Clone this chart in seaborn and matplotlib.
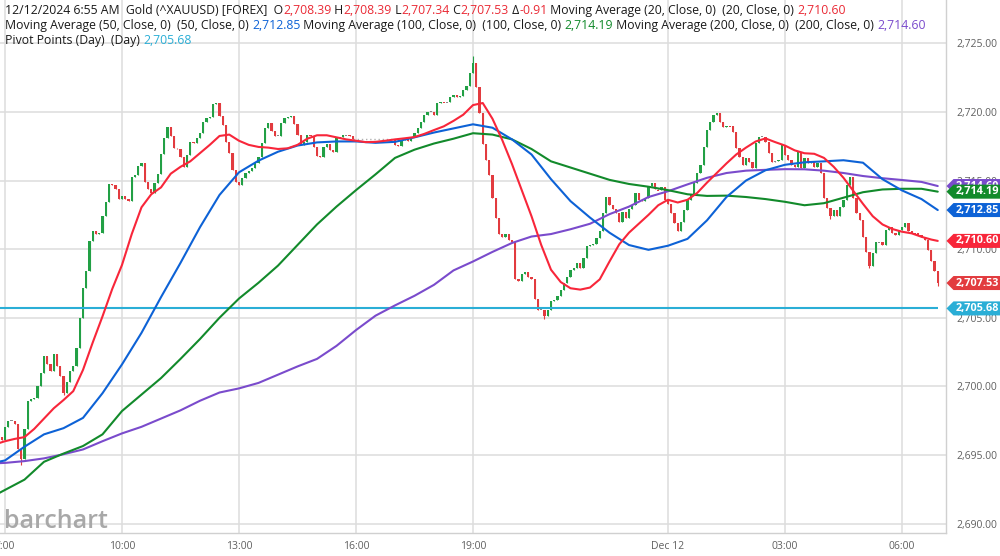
import numpy as np
import pandas as pd
import matplotlib
matplotlib.use("Agg")
import matplotlib.pyplot as plt
import seaborn as sns
from matplotlib.path import Path

W, H = 1000, 556

# ---------------- data ----------------
bar_times = pd.date_range("2024-12-11 06:55", "2024-12-12 06:55", freq="5min")
first_open = 2696.30
closes = [
    2696.10,
    # 07:00
    2697.00, 2697.48, 2697.50, 2697.24, 2695.41, 2694.68, 2696.87, 2698.94, 2699.11, 2699.18, 2700.03, 2700.95,
    # 08:00
    2702.22, 2701.61, 2701.12, 2702.34, 2701.49, 2700.76, 2699.54, 2700.32, 2701.12, 2701.49, 2702.82, 2705.01,
    # 09:00
    2707.20, 2708.41, 2710.60, 2711.33, 2711.08, 2711.20, 2712.42, 2713.44, 2714.78, 2714.70, 2714.36, 2713.65,
    # 10:00
    2713.88, 2713.63, 2713.50, 2715.29, 2715.38, 2716.06, 2716.30, 2714.90, 2714.36, 2714.12, 2714.85, 2715.46,
    # 11:00
    2716.91, 2718.08, 2718.93, 2718.25, 2717.35, 2717.30, 2716.70, 2715.97, 2716.87, 2717.84, 2717.72, 2718.08,
    # 12:00
    2718.45, 2719.30, 2719.59, 2719.66, 2720.58, 2720.68, 2719.71, 2719.05, 2717.84, 2716.99, 2715.77, 2714.92,
    # 13:00
    2714.70, 2715.17, 2715.53, 2715.72, 2715.89, 2716.26, 2716.74, 2717.72, 2718.81, 2719.17, 2718.64, 2718.25,
    # 14:00
    2718.27, 2719.17, 2719.54, 2719.66, 2719.70, 2719.13, 2718.32, 2717.59, 2717.84, 2718.32, 2718.25, 2717.47,
    # 15:00
    2716.79, 2716.74, 2717.47, 2717.67, 2717.20, 2717.10, 2718.08, 2718.15, 2718.32, 2718.30, 2718.25, 2718.05,
    # 16:00 (session break)
    None, None, None, None, None, None, None, None, None, None, None, None,
    # 17:00
    2717.59, 2717.52, 2717.96, 2718.00, 2717.90, 2718.15, 2718.50, 2718.81, 2719.30, 2719.78, 2720.00, 2720.02,
    # 18:00
    2719.78, 2720.63, 2720.75, 2720.70, 2720.72, 2721.12, 2721.20, 2721.12, 2721.15, 2721.60, 2721.90, 2722.87,
    # 19:00
    2723.55, 2721.80, 2719.90, 2717.70, 2716.50, 2715.40, 2713.70, 2712.30, 2711.10, 2710.90, 2711.10, 2710.70,
    # 20:00
    2710.50, 2707.80, 2707.70, 2708.20, 2708.35, 2708.00, 2707.80, 2706.40, 2705.60, 2705.60, 2705.10, 2705.60,
    # 21:00
    2706.20, 2706.30, 2706.60, 2707.00, 2707.50, 2708.00, 2708.50, 2708.60, 2709.00, 2708.60, 2709.35, 2710.20,
    # 22:00
    2710.30, 2710.40, 2710.80, 2711.30, 2712.60, 2713.80, 2713.20, 2712.90, 2712.60, 2712.00, 2712.70, 2712.30,
    # 23:00
    2712.90, 2713.20, 2714.10, 2713.60, 2713.50, 2713.70, 2714.60, 2714.80, 2714.35, 2714.30, 2714.50, 2713.60,
    # 00:00
    2713.30, 2712.60, 2711.90, 2711.30, 2712.00, 2712.86, 2713.59, 2713.96, 2714.80, 2715.53, 2716.14, 2717.48,
    # 01:00
    2718.69, 2719.30, 2719.78, 2719.90, 2719.30, 2718.93, 2719.00, 2718.95, 2718.57, 2717.35, 2716.75, 2716.14,
    # 02:00
    2716.63, 2716.38, 2715.90, 2717.72, 2718.20, 2718.20, 2717.84, 2716.99, 2716.38, 2716.40, 2716.50, 2717.60,
    # 03:00
    2716.87, 2716.50, 2716.14, 2716.00, 2717.10, 2715.90, 2716.63, 2716.26, 2716.38, 2716.00, 2716.26, 2715.53,
    # 04:00
    2713.71, 2712.99, 2712.40, 2712.86, 2712.38, 2713.10, 2713.59, 2714.68, 2715.29, 2713.71, 2712.62, 2712.14,
    # 05:00
    2710.90, 2709.80, 2708.75, 2709.70, 2710.50, 2710.50, 2710.30, 2711.40, 2711.65, 2711.20, 2711.05, 2711.40,
    # 06:00
    2711.65, 2711.90, 2711.30, 2711.20, 2711.15, 2711.05, 2710.90, 2710.70, 2709.95, 2709.10, 2708.39, 2707.53,
]
extra_high = {"2024-12-11 19:00": 2724.05}
extra_low = {"2024-12-11 07:25": 2694.25, "2024-12-11 08:30": 2699.35,
             "2024-12-11 20:50": 2704.90, "2024-12-12 04:10": 2712.20,
             "2024-12-12 05:10": 2708.60, "2024-12-12 06:55": 2707.34}

ma20_times = (["2024-12-11 06:50"]
              + pd.date_range("2024-12-11 07:00", "2024-12-12 06:45", freq="15min").strftime("%Y-%m-%d %H:%M").tolist()
              + ["2024-12-12 06:55"])
ma20 = [2695.85,
        2696.00, 2696.17, 2696.30, 2696.90, 2697.65, 2698.40, 2699.00, 2699.65, 2701.20, 2703.20,
        2705.10, 2707.10, 2708.85, 2711.10, 2713.05, 2714.00, 2714.50, 2715.50, 2716.00, 2716.40,
        2717.00, 2717.60, 2718.25, 2718.35, 2717.90, 2717.60, 2717.45, 2717.40, 2717.30, 2717.35,
        2717.60, 2718.05, 2718.30, 2718.30, 2718.15, 2718.00, 2717.90, 2717.80, 2717.82, 2717.90,
        2718.00, 2718.08, 2718.17, 2718.40, 2718.68, 2718.95, 2719.35, 2719.80, 2720.50, 2720.65,
        2719.50, 2717.95, 2716.20, 2714.30, 2712.40, 2710.30, 2708.50, 2707.60, 2707.15, 2707.05,
        2707.20, 2707.80, 2709.10, 2710.35, 2711.20, 2711.85, 2712.50, 2713.20, 2713.60, 2713.40,
        2713.60, 2714.10, 2714.85, 2715.55, 2716.25, 2716.90, 2717.40, 2717.85, 2718.07, 2717.80,
        2717.55, 2717.20, 2716.99, 2716.95, 2716.65, 2716.00, 2715.20, 2714.25, 2713.30, 2712.40,
        2711.80, 2711.47, 2711.27, 2711.15, 2710.90, 2710.70,
        2710.60]

ma_long_times = (["2024-12-11 06:50"]
                 + pd.date_range("2024-12-11 07:00", "2024-12-12 06:30", freq="30min").strftime("%Y-%m-%d %H:%M").tolist()
                 + ["2024-12-12 06:55"])
ma50 = [2694.50,
        2694.60, 2695.60, 2696.50, 2696.95, 2697.70, 2699.50, 2701.60, 2703.90, 2706.50, 2709.00,
        2711.60, 2713.95, 2715.60, 2716.45, 2717.10, 2717.55, 2717.78, 2717.85, 2717.85, 2717.75,
        2717.82, 2718.15, 2718.50, 2718.80, 2719.10, 2718.85, 2718.00, 2716.90, 2715.10, 2713.50,
        2712.30, 2711.20, 2710.30, 2709.95, 2710.25, 2710.75, 2712.10, 2713.80, 2715.00, 2715.75,
        2716.15, 2716.33, 2716.40, 2716.48, 2716.30, 2715.10, 2714.28, 2713.65,
        2712.85]
ma100 = [2692.20,
         2692.45, 2693.20, 2694.50, 2695.10, 2695.65, 2696.50, 2698.20, 2699.40, 2700.60, 2702.00,
         2703.45, 2705.00, 2706.40, 2707.55, 2708.80, 2710.30, 2711.80, 2713.10, 2714.30, 2715.45,
         2716.65, 2717.25, 2717.70, 2718.05, 2718.45, 2718.35, 2718.00, 2717.30, 2716.40, 2715.95,
         2715.50, 2715.05, 2714.75, 2714.55, 2714.30, 2714.00, 2713.88, 2713.90, 2713.80, 2713.65,
         2713.45, 2713.20, 2713.35, 2713.75, 2714.15, 2714.35, 2714.40, 2714.40,
         2714.19]
ma200 = [2694.40,
         2694.42, 2694.55, 2694.75, 2695.05, 2695.40, 2696.00, 2696.57, 2697.05, 2697.65, 2698.25,
         2698.95, 2699.55, 2699.85, 2700.25, 2700.85, 2701.45, 2702.00, 2702.95, 2704.10, 2705.15,
         2705.90, 2706.60, 2707.40, 2708.45, 2709.10, 2709.80, 2710.45, 2710.92, 2711.10, 2711.45,
         2711.85, 2712.55, 2713.10, 2713.80, 2714.22, 2714.72, 2715.20, 2715.55, 2715.72, 2715.78,
         2715.83, 2715.82, 2715.72, 2715.55, 2715.33, 2715.17, 2715.04, 2714.90,
         2714.60]
pivot = 2705.68

tick_times = ["2024-12-11 07:00", "2024-12-11 10:00", "2024-12-11 13:00", "2024-12-11 16:00",
              "2024-12-11 19:00", "2024-12-12 00:00", "2024-12-12 03:00", "2024-12-12 06:00"]
tick_labels = ["7:00", "10:00", "13:00", "16:00", "19:00", "Dec 12", "03:00", "06:00"]
y_ticks = [2690, 2695, 2700, 2705, 2710, 2715, 2720, 2725]

# ---------------- style ----------------
sns.set_theme(style="white")
plt.rcParams["font.family"] = ["Open Sans", "DejaVu Sans"]

C_UP = "#22a045"
C_DN = "#e23b3f"
C_MA20 = "#f8263a"
C_MA50 = "#0d62d6"
C_MA100 = "#128a2b"
C_MA200 = "#7a4bcc"
C_PIV = "#2aaed6"
C_PRICE = "#e23b3f"
GRID = "#dddddd"
TXT = "#606060"

t0 = pd.Timestamp("2024-12-11 07:00")
def pos(ts):
    ts = pd.to_datetime(pd.Series(list(ts)), format="mixed")
    return ((ts - t0) / pd.Timedelta("5min")).to_numpy(dtype=float)

fig = plt.figure(figsize=(W / 100, H / 100), dpi=100)
ax = fig.add_axes([0, 23 / H, 946 / W, 533 / H])
ax.set_facecolor("white")

# candles
df = pd.DataFrame({"time": bar_times,
                   "close": np.array([np.nan if v is None else v for v in closes], dtype=float)})
df["open"] = df["close"].ffill().shift(1)
df.loc[0, "open"] = first_open
df["x"] = pos(df["time"])
df["high"] = df[["open", "close"]].max(axis=1)
df["low"] = df[["open", "close"]].min(axis=1)
for t, v in extra_high.items():
    df.loc[df["time"] == pd.Timestamp(t), "high"] = v
for t, v in extra_low.items():
    df.loc[df["time"] == pd.Timestamp(t), "low"] = v
d = df.dropna(subset=["close"]).copy()
diff = (d["close"] - d["open"]).to_numpy()
cols = np.where(diff > 0.02, C_UP, np.where(diff < -0.02, C_DN, "#8a8a8a"))
body_h = np.maximum(np.abs(diff), 0.07)
body_b = np.minimum(d["open"], d["close"]).to_numpy() - np.where(np.abs(diff) < 0.07, 0.035, 0)
ax.vlines(d["x"], d["low"], d["high"], colors=cols, linewidth=0.8, zorder=3)
ax.bar(d["x"], body_h, bottom=body_b, width=0.75, color=cols, linewidth=0, zorder=3)

# session break dotted line
brk = df[df["close"].isna()]
x_prev = df.loc[brk.index.min() - 1, "x"]
x_next = df.loc[brk.index.max() + 1, "x"]
y_prev = df.loc[brk.index.min() - 1, "close"]
ax.plot([x_prev, x_next], [y_prev, y_prev], ls=(0, (1, 2)), color="#b0b0b0", lw=1, zorder=2)

# pivot line
ax.hlines(pivot, -2, df["x"].max(), color=C_PIV, lw=1.5, zorder=4)

# moving averages
for times, vals, c in [(ma_long_times, ma200, C_MA200), (ma_long_times, ma100, C_MA100),
                       (ma_long_times, ma50, C_MA50), (ma20_times, ma20, C_MA20)]:
    sns.lineplot(x=pos(times), y=vals, color=c, linewidth=1.5, ax=ax, legend=False, zorder=5)

# axes
ax.set_xlim(-1.54, 289.54)
ax.set_ylim(2689.31, 2728.16)
ax.set_xticks(pos(tick_times))
ax.set_xticklabels(tick_labels)
ax.set_yticks(y_ticks)
ax.set_yticklabels([f"{v:,.2f}" for v in y_ticks])
ax.yaxis.tick_right()
ax.grid(True, color=GRID, linewidth=1.1)
ax.set_axisbelow(True)
ax.tick_params(axis="y", length=0, pad=7.5, labelsize=7.5, labelcolor=TXT)
ax.tick_params(axis="x", length=3, width=1, color="#cccccc", pad=3, labelsize=7.5, labelcolor=TXT)
for s in ["top", "left"]:
    ax.spines[s].set_visible(False)
for s in ["right", "bottom"]:
    ax.spines[s].set_color("#d0d0d0")
    ax.spines[s].set_linewidth(1.0)
ax.set_xlabel("")
ax.set_ylabel("")


# value tags on the right
def tag_style(x0, y0, width, height, mutation_size):
    px_l, px_r, py = 0.18 * mutation_size, 1.2 * mutation_size, 0.14 * mutation_size
    x0, x1 = x0 - px_l, x0 + width + px_r
    y0, y1 = y0 - py, y0 + height + py
    tip = 0.5 * (y1 - y0)
    verts = [(x0 - tip, (y0 + y1) / 2), (x0, y0), (x1, y0), (x1, y1), (x0, y1),
             (x0 - tip, (y0 + y1) / 2), (x0 - tip, (y0 + y1) / 2)]
    codes = [Path.MOVETO] + [Path.LINETO] * 5 + [Path.CLOSEPOLY]
    return Path(verts, codes)

for val, c in [(ma200[-1], C_MA200), (ma100[-1], C_MA100), (ma50[-1], C_MA50),
               (ma20[-1], C_MA20), (closes[-1], C_PRICE), (pivot, C_PIV)]:
    ax.annotate(f"{val:,.2f}", xy=(1, val), xycoords=("axes fraction", "data"),
                xytext=(6.8, 0), textcoords="offset points", ha="left", va="center",
                fontsize=7.8, fontweight="bold", color="white", annotation_clip=False,
                bbox=dict(boxstyle=tag_style, fc=c, ec="none"), zorder=10)

# header
renderer = fig.canvas.get_renderer()
FS = 8.8
def width_px(s):
    a = fig.text(0, 0, s + "|", fontsize=FS)
    b = fig.text(0, 0, "|", fontsize=FS)
    w = a.get_window_extent(renderer).width - b.get_window_extent(renderer).width
    a.remove(); b.remove()
    return w

def colored_line(y_px, segments):
    x = 5
    for s, c in segments:
        fig.text(x / W, 1 - y_px / H, s, color=c, fontsize=FS, ha="left", va="baseline", zorder=20)
        x += width_px(s)

K = "#1a1a1a"
R = "#ea2a35"
colored_line(14, [("12/12/2024 6:55 AM  Gold (^XAUUSD) [FOREX]  O", K), ("2,708.39", R), (" H", K),
                  ("2,708.39", R), (" L", K), ("2,707.34", R), (" C", K), ("2,707.53", R),
                  (" \u0394", K), ("-0.91", R),
                  (" Moving Average (20, Close, 0)  (20, Close, 0) ", K), (f"{ma20[-1]:,.2f}", R)])
colored_line(29, [("Moving Average (50, Close, 0)  (50, Close, 0) ", K), (f"{ma50[-1]:,.2f}", C_MA50),
                  (" Moving Average (100, Close, 0)  (100, Close, 0) ", K), (f"{ma100[-1]:,.2f}", C_MA100),
                  (" Moving Average (200, Close, 0)  (200, Close, 0) ", K), (f"{ma200[-1]:,.2f}", C_MA200)])
colored_line(44, [("Pivot Points (Day)  (Day) ", K), (f"{pivot:,.2f}", C_PIV)])

# watermark
fig.text(4 / W, 1 - 528 / H, "barchart", fontsize=18, color="#a8a8a8", fontweight="semibold",
         ha="left", va="baseline", zorder=20)

fig.savefig("out.png", dpi=100)
